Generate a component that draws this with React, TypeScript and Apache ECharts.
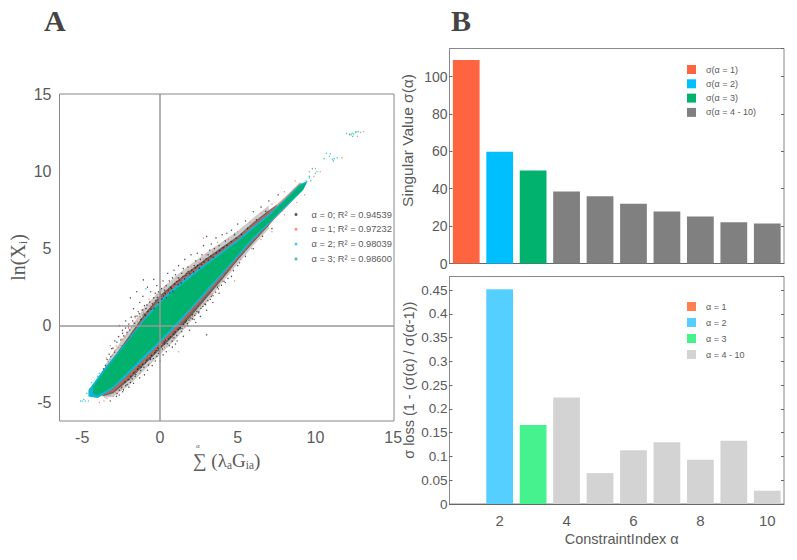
import React, { useEffect, useRef } from "react";
import * as echarts from "echarts";

const constraintIndex = ["1", "2", "3", "4", "5", "6", "7", "8", "9", "10"];
const sigmaRed = [108.8, null, null, null, null, null, null, null, null, null];
const sigmaBlue = [null, 59.8, null, null, null, null, null, null, null, null];
const sigmaGreen = [null, null, 49.8, null, null, null, null, null, null, null];
const sigmaGrey = [null, null, null, 38.5, 36, 32, 27.8, 25.2, 22, 21.4];
const lossOrange = [null, null, null, null, null, null, null, null, null, null];
const lossBlue = [null, 0.452, null, null, null, null, null, null, null, null];
const lossGreen = [null, null, 0.166, null, null, null, null, null, null, null];
const lossGrey = [null, null, null, 0.224, 0.065, 0.113, 0.13, 0.093, 0.133, 0.028];

const bandHaze = [[-3.5,-2.5],[-2.5,-1],[-2,-0.3],[-1,1.2],[0,2.3],[1,3.2],[2,4],[3,4.75],[4,5.45],[5,6.15],[6,7],[7,7.8],[7,6.3],[6,5.2],[5,4],[4,2.8],[3,1.5],[2,0.3],[1,-0.9],[0,-1.9],[-1,-2.9],[-2,-3.9],[-3,-4.6],[-3.6,-4.7]];
const bandBlack = [[-3.7,-3.1],[-3,-2.1],[-2,-0.7],[-1,0.75],[0,1.95],[1,2.85],[2,3.65],[3,4.4],[4,5.1],[5,5.8],[6,6.7],[7,7.5],[7.5,7.85],[7.5,7.1],[7,6.5],[6,5.4],[5,4.25],[4,3],[3,1.8],[2,0.6],[1,-0.55],[0,-1.55],[-1,-2.55],[-2,-3.55],[-3,-4.4],[-3.7,-4.6]];
const bandRed = [[-4,-3.5],[-3.3,-2.6],[-2,-0.85],[-1,0.6],[0,1.8],[1,2.7],[2,3.5],[3,4.25],[4,4.95],[5,5.72],[6,6.6],[7,7.4],[8,8.3],[9,9.3],[9.3,9],[8,7.55],[7,6.55],[6,5.5],[5,4.35],[4,3.15],[3,2],[2,0.85],[1,-0.3],[0,-1.35],[-1,-2.35],[-2,-3.35],[-3,-4.3],[-3.9,-4.6]];
const bandCyan = [[-4.6,-4.2],[-3.6,-2.8],[-2,-0.85],[-1,0.5],[0,1.65],[1,2.55],[2,3.35],[3,4.1],[4,4.85],[5,5.6],[6,6.45],[7,7.25],[8,8.2],[9,9.2],[9.5,9.4],[9.2,8.8],[8,7.6],[7,6.6],[6,5.6],[5,4.45],[4,3.3],[3,2.15],[2,1.05],[1,-0.1],[0,-1.15],[-1,-2.15],[-2,-3.15],[-3,-4.1],[-4,-4.7],[-4.6,-4.6]];
const bandGreen = [[-4.3,-4],[-3.5,-2.85],[-2,-0.95],[-1,0.35],[0,1.45],[1,2.35],[2,3.15],[3,3.95],[4,4.7],[5,5.45],[6,6.3],[7,7.1],[8,8.1],[9,9.1],[9.4,9.25],[9.2,8.85],[8,7.7],[7,6.7],[6,5.75],[5,4.6],[4,3.45],[3,2.35],[2,1.2],[1,0.1],[0,-0.95],[-1,-1.95],[-2,-2.95],[-3,-3.95],[-4,-4.55],[-4.3,-4.4]];

const pointsBlack = [
[-1.07,2.97],[-0.4,3],[-1.5,2.2],[-1.9,1.8],[-1.3,1.5],[-0.8,2.5],[-0.2,2.6],[0.2,2.9],[0.5,3.4],[0.9,3.6],[1.2,3.9],[1.6,4.3],[2,4.6],[2.4,4.7],[2.8,5.2],[3,5.8],[3.3,5.3],[3.6,5.7],[4,5.9],[4.3,6],[4.6,6.2],[5,6.6],[5.5,6.8],[6,7.4],[6.5,7.7],[7,8.1],[7.6,8.5],
[-2.6,0],[-2.2,0.3],[-1.7,1.1],[-1.1,1.9],[-0.6,2.2],[-0.1,2.2],[0.4,2.6],[0.8,3.1],[1.4,3.4],[1.8,3.8],[2.3,4.2],[2.7,4.6],[3.2,4.9],[3.8,5.2],[-3.1,-1.5],[-2.9,-1],[-2.4,-0.5],[-3.4,-2.2],
[-1.4,0.9],[-1,1.3],[-0.4,1.8],[0.1,2.4],[0.6,2.9],[1,3.3],[1.5,3.7],[-2,0.1],[-1.6,0.6],[-0.9,1.1],[-0.3,2.1],[0.3,2.3],[0.7,2.5],[1.2,3.1],[1.7,3.4],[2.2,3.9],[2.6,4.3],[3.1,4.6],[3.5,5],[4.2,5.5],[4.8,5.9],
[3,-0.6],[-0.2,-2],[-1.7,-3.75],[-0.5,-2.6],[0,-2.3],[0.4,-1.7],[0.8,-1.4],[1.1,-1],[1.5,-0.7],[1.9,-0.3],[2.3,0.2],[2.6,0.6],[3,1],[3.4,1.5],[3.8,2.1],[4.2,2.8],[4.6,3.2],[5,3.9],[5.5,4.5],[6,5],[6.6,5.8],[7.2,6.3],
[-1,-3.2],[-1.3,-3.4],[-2,-4],[-2.4,-4.3],[-2.8,-4.6],[-3.2,-4.9],[-0.8,-2.9],[-0.3,-2.3],[0.2,-1.9],[0.6,-1.3],[1,-1.2],[1.4,-0.4],[1.8,0],[2.2,0.4],[2.5,0.9],[2.9,1.4],[3.3,1.9],[3.7,2.5],[-1.6,-3.3],[-1.9,-3.7],[-2.2,-3.9],[-2.6,-4.2],[-0.6,-2.2],[-0.1,-1.8],[0.3,-1.2],[0.9,-0.8],[1.3,-0.2],[1.7,0.3],[2.1,0.7],[-1.2,-2.7],[-1.5,-3],
[-1.85,0.55],[-1.75,0.3],[-1.62,0.15],[-1.48,0.62],[-1.33,0.78],[-1.22,0.41],[-1.11,1.02],[-1.02,0.74],[-0.93,0.66],[-0.84,1.34],[-0.77,0.92],[-0.66,1.53],[-0.58,1.07],[-0.49,1.42],[-0.38,1.12],[-0.27,1.63],[-0.17,1.84],[-0.08,1.49],[0.03,2.04],[0.12,1.72],[0.22,1.93],[0.34,2.08],[0.41,1.81],[0.52,2.27],[0.63,2.13],[0.74,2.42],[0.83,2.22],[0.95,2.71],[1.06,2.84],[1.17,2.66],[1.28,2.97],[1.36,2.77],[1.47,3.16],[1.58,3.03],[1.69,3.27],[1.81,3.52],[1.93,3.36],[2.04,3.61],[2.16,3.49],[2.29,3.76],[2.41,3.91],[2.53,3.73],[2.68,3.97],[2.84,4.13],[2.97,4.34],[3.12,4.26],[3.28,4.51],[3.42,4.44],[3.63,4.72],[3.84,4.87],[4.06,5.06],[4.31,5.22],[4.57,5.46],[4.9,5.68],[5.24,5.93],[5.63,6.32],[6.2,6.88],[6.8,7.42],
[-2.77,-1.08],[-2.66,-0.72],[-2.52,-0.94],[-2.41,-0.31],[-2.33,-0.67],[-2.21,-0.16],[-2.12,-0.44],[-2.03,-0.08],[-1.94,-0.29],[-3.27,-1.86],[-3.16,-2.01],[-3.02,-1.47],[-2.92,-1.73],[-3.5,-2.6],[-3.63,-2.81],
[-2.76,-4.42],[-2.62,-4.51],[-2.47,-4.03],[-2.35,-4.18],[-2.24,-3.66],[-2.11,-3.83],[-2,-3.52],[-1.88,-3.31],[-1.79,-3.46],[-1.68,-3.07],[-1.56,-3.18],[-1.44,-2.83],[-1.35,-2.64],[-1.24,-2.92],[-1.13,-2.53],[-1.03,-2.71],[-0.94,-2.41],[-0.85,-2.26],[-0.74,-2.57],[-0.64,-2.11],[-0.54,-1.93],[-0.43,-2.14],[-0.33,-1.76],[-0.24,-1.62],[-0.13,-1.47],[-0.04,-1.66],[0.07,-1.33],[0.16,-1.52],[0.27,-1.07],[0.38,-0.94],[0.47,-1.18],[0.57,-0.87],[0.68,-0.73],[0.78,-1.01],[0.88,-0.56],[0.98,-0.41],[1.08,-0.64],[1.19,-0.26],[1.31,-0.11],[1.42,-0.19],[1.53,0.08],[1.64,0.21],[1.76,0.13],[1.87,0.36],[1.98,0.49],[2.09,0.44],[2.24,0.67],[2.37,0.92],[2.49,0.83],[2.63,1.11],[2.76,1.24],[2.93,1.36],[3.08,1.62],[3.24,1.71],[3.41,1.94],[3.58,2.17],[3.76,2.38],[3.96,2.62],[4.12,2.88],[4.37,3.07],[4.72,3.57],[5.12,4.08]
];
const pointsRed = [
[-3.2,-1.3],[-2.9,-1.6],[-2.4,-0.9],[-2,-0.2],[-1.6,0.5],[-1.2,1],[-0.7,1.7],[-0.2,2],[0.3,2.5],[0.6,2.2],[1.1,3.1],[1.5,3.1],[2,3.8],[2.5,4.1],[3,4.6],[3.4,4.8],[2.8,5.7],[3.7,5.4],[4.4,5.6],[5,6.1],[5.8,6.7],[6.5,7.3],[7.2,7.9],[8,8.7],[8.7,9.4],[9.6,10],[10,10.2],[9.9,9.7],[10.3,10],
[-3.9,-5],[-3.6,-4.9],[-3,-4.6],[-2.5,-4.1],[-1.9,-3.6],[-1.3,-3.1],[-0.7,-2.5],[-0.2,-1.7],[0.3,-1.4],[0.8,-0.8],[1.2,-1.7],[1.6,-0.1],[2.1,0.6],[2.6,1.3],[3.2,2],[3.8,2.6],[4.5,3.6],[4.8,2.9],[5.2,4.3],[5.9,5],[6.5,5.6],[7.2,6.1],[8,7.2],[8.8,8],[9.3,8.5],
[12.2,12.4],[13.1,12.6],[12.7,12.3],[11.7,10.9],
[-3.45,-2.1],[-3.3,-2.36],[-3.07,-1.92],[-2.81,-1.33],[-2.66,-1.44],[-2.5,-0.87],[-2.27,-0.73],[-2.13,-0.56],[-1.83,-0.12],[-1.7,0.18],[-1.45,0.26],[-1.28,0.58],[-1.06,0.87],[-0.87,0.79],[-0.62,1.28],[-0.44,1.47],[-0.12,1.77],[0.14,1.96],[0.46,2.31],[0.78,2.58],[1.03,2.79],[1.32,3.02],[1.72,3.31],[2.14,3.72],[2.77,4.31],
[-3.41,-4.72],[-3.18,-4.56],[-2.87,-4.31],[-2.69,-4.22],[-2.41,-3.97],[-2.17,-3.61],[-1.97,-3.39],[-1.72,-3.21],[-1.49,-2.96],[-1.17,-2.61],[-0.97,-2.33],[-0.71,-2.02],[-0.47,-1.83],[-0.18,-1.55],[0.11,-1.24],[0.43,-0.91],[0.71,-0.62],[1.04,-0.33],[1.37,-0.02],[1.82,0.41],[2.27,0.79],[2.83,1.44],[3.36,2.03],[4.01,2.87]
];
const pointsCyan = [
[-5,-4.9],[-4.8,-4.9],[-4.6,-4.9],[-4.5,-4.4],[-4.4,-3.7],[-3.9,-3.1],[-3.2,-2.2],[-2.5,-1.3],[-1.9,-0.6],[-1.1,0.7],[-0.9,2.4],[-0.2,1.8],[0.6,2.5],[1.5,3],[2.6,3.8],[4.8,6],[5.5,6.2],[6.6,7],[7.5,7.7],[8.6,8.8],[9.6,9.6],[10.1,10],
[12.3,12.4],[12.6,12.6],[12.9,12.55],[10.9,11],[11.1,10.8],[11.4,10.9],
[-3.3,-4.5],[-2.2,-3.4],[-1,-2.4],[0.2,-0.9],[1.4,0.4],[2.6,1.6],[4,3.2],[5.5,4.9]
];
const pointsGreen = [
[-4.9,-4.8],[-5.1,-4.9],[-4.7,-4.4],[-4.5,-4.1],[-4.3,-3.9],[-4,-3.3],[-3.6,-3],[9.4,9.4],[9.6,9.7],[9.8,10.2],[10,9.9],[9.7,9.4],
[12,12.5],[12.2,12.45],[12.35,12.5],[12.45,12.45],[12.6,12.55],[12.75,12.6],[12.4,12.3],[10.7,11.2],[10.95,11.15],[11.2,10.85],[11.15,10.7],[10.55,10.85]
];

const seriesNames = ["α = 0; R² = 0.94539", "α = 1; R² = 0.97232", "α = 2; R² = 0.98039", "α = 3; R² = 0.98600"];
const scatterColors = ["#1a1a1a", "#FF6A50", "#00BFFF", "#00B878"];
const bandColors = ["#3a3531", "#E2654C", "#10B4D8", "#00B26E", "#55504c"];
const bandOpacity = [0.7, 0.7, 1, 1, 0.3];
const sigmaNames = ["σ(α = 1)", "σ(α = 2)", "σ(α = 3)", "σ(α = 4 - 10)"];
const lossNames = ["α = 1", "α = 2", "α = 3", "α = 4 - 10"];
const sigmaColors = ["#FF6440", "#00BFFF", "#00B26E", "#808080"];
const lossColors = ["#FF7F50", "#55CFFF", "#45F28D", "#D3D3D3"];

const TXT = "#5a5a5a";
const SANS = '"Liberation Sans", Arial, sans-serif';
const SERIF = '"Liberation Serif", "DejaVu Serif", serif';

function bandSeries(i: number, band: number[][]) {
  return {
    type: "custom", name: "band" + i, xAxisIndex: 0, yAxisIndex: 0, silent: true,
    data: band, encode: { x: 0, y: 1 },
    renderItem: (p: any, api: any) => {
      if (p.dataIndex !== 0) return null;
      return {
        type: "polygon",
        shape: { points: band.map((v) => api.coord(v)) },
        style: { fill: bandColors[i], opacity: bandOpacity[i] },
      };
    },
  };
}
function scatterSeries(i: number, pts: number[][]) {
  return {
    type: "scatter", name: seriesNames[i], xAxisIndex: 0, yAxisIndex: 0, data: pts,
    symbol: "circle", symbolSize: 1.4, itemStyle: { color: scatterColors[i], opacity: 0.75 }, silent: true,
  };
}
function barSeries(name: string, color: string, data: any[], ax: number) {
  return {
    type: "bar", name, data, xAxisIndex: ax, yAxisIndex: ax, stack: "s" + ax, barWidth: "80%",
    itemStyle: { color }, silent: true,
  };
}
const evenOnly = (_: number, v: string) => Number(v) % 2 === 0;
function sideAxis(grid: number, max: number, interval: number) {
  return {
    type: "value", gridIndex: grid, position: "right", min: 0, max, interval,
    axisLine: { show: false }, splitLine: { show: false }, axisLabel: { show: false },
    axisTick: { show: true, inside: true, length: 3, lineStyle: { color: "#666" } },
  };
}
const rangeLabel = { showMaxLabel: false, color: TXT, fontFamily: SANS, margin: 2 };
const aTicks = [-5, 0, 5, 10, 15];

export default function App() {
  const ref = useRef<HTMLDivElement>(null);
  useEffect(() => {
    const chart = echarts.init(ref.current!, null, { renderer: "svg" });
    const commonA = {
      axisLine: { show: false }, splitLine: { show: false },
      axisLabel: { color: TXT, fontSize: 16, fontFamily: SANS, customValues: aTicks, showMinLabel: true, showMaxLabel: true },
      axisTick: { show: false, customValues: aTicks },
    };
    chart.setOption({
      animation: false,
      backgroundColor: "#fff",
      title: [
        { text: "A", left: 39, top: 0, textStyle: { fontFamily: SERIF, fontSize: 30, fontWeight: "bold", color: "#444" } },
        { text: "B", left: 446, top: 0, textStyle: { fontFamily: SERIF, fontSize: 30, fontWeight: "bold", color: "#444" } },
      ],
      grid: [
        { left: 59.5, top: 94, width: 334.5, height: 327, show: true, borderColor: "#888", borderWidth: 1, backgroundColor: "#fff" },
        { left: 449.5, top: 48.5, width: 334.5, height: 215, show: true, borderColor: "#888", borderWidth: 1, backgroundColor: "#fff" },
        { left: 449.5, top: 276.5, width: 334.5, height: 227.5, show: true, borderColor: "#888", borderWidth: 1, backgroundColor: "#fff" },
      ],
      xAxis: [
        { type: "value", gridIndex: 0, min: -6.46, max: 15.05, ...commonA,
          name: "∑ (λₐGᵢₐ)", nameLocation: "middle", nameGap: 30, nameMoveOverlap: false,
          nameTextStyle: { fontFamily: SERIF, fontSize: 19, color: TXT } },
        { type: "category", gridIndex: 1, data: constraintIndex, axisTick: { show: false }, axisLabel: { show: false }, axisLine: { lineStyle: { color: "#666" } } },
        { type: "category", gridIndex: 2, data: constraintIndex,
          axisLine: { lineStyle: { color: "#666" } },
          axisTick: { alignWithLabel: true, inside: true, length: 3, interval: evenOnly, lineStyle: { color: "#666" } },
          axisLabel: { interval: evenOnly, color: TXT, fontSize: 15, fontFamily: SANS, margin: 9 },
          name: "ConstraintIndex α", nameLocation: "middle", nameGap: 27, nameMoveOverlap: false,
          nameTextStyle: { color: TXT, fontSize: 14.5, fontFamily: SANS, padding: [0, 0, 0, 10] } },
        { type: "category", gridIndex: 2, position: "top", data: constraintIndex, axisLine: { show: false }, axisLabel: { show: false },
          axisTick: { alignWithLabel: true, inside: true, length: 3, interval: evenOnly, lineStyle: { color: "#666" } } },
      ],
      yAxis: [
        { type: "value", gridIndex: 0, min: -6.2, max: 15.05, ...commonA,
          name: "ln(Xᵢ)", nameLocation: "middle", nameGap: 32, nameRotate: 90, nameMoveOverlap: false,
          nameTextStyle: { fontFamily: SERIF, fontSize: 20, color: TXT } },
        { type: "value", gridIndex: 1, min: 0, max: 115, interval: 20, splitLine: { show: false },
          axisLine: { show: true, lineStyle: { color: "#888" } },
          axisTick: { show: true, inside: true, length: 3, lineStyle: { color: "#666" } },
          axisLabel: { ...rangeLabel, fontSize: 14 },
          name: "Singular Value σ(α)", nameLocation: "middle", nameGap: 34, nameMoveOverlap: false,
          nameTextStyle: { color: TXT, fontSize: 15.5, fontFamily: SANS, padding: [0, 0, 0, 31] } },
        { type: "value", gridIndex: 2, min: 0, max: 0.4786, interval: 0.05, splitLine: { show: false },
          axisLine: { show: true, lineStyle: { color: "#888" } },
          axisTick: { show: true, inside: true, length: 3, lineStyle: { color: "#666" } },
          axisLabel: { ...rangeLabel, fontSize: 13.5 },
          name: "σ loss (1 - (σ(α) / σ(α-1))", nameLocation: "middle", nameGap: 33, nameMoveOverlap: false,
          nameTextStyle: { color: TXT, fontSize: 14.5, fontFamily: SANS, padding: [0, 0, 0, 20] } },
        sideAxis(1, 115, 20),
        sideAxis(2, 0.4786, 0.05),
      ],
      legend: [
        { data: seriesNames, left: 289.5, top: 204, orient: "vertical", itemWidth: 3, itemHeight: 3, itemGap: 3.8, icon: "circle",
          textStyle: { color: TXT, fontSize: 9.3, fontFamily: SANS, padding: [0, 0, 0, 9], lineHeight: 11 } },
        { data: sigmaNames, left: 682, top: 60, orient: "vertical", itemWidth: 9, itemHeight: 9, itemGap: 5.3, icon: "rect",
          textStyle: { color: TXT, fontSize: 9, fontFamily: SANS, padding: [0, 0, 0, 5] } },
        { data: lossNames, left: 682, top: 297, orient: "vertical", itemWidth: 9, itemHeight: 9, itemGap: 7, icon: "rect",
          textStyle: { color: TXT, fontSize: 9, fontFamily: SANS, padding: [0, 0, 0, 5] } },
      ],
      graphic: [
        { type: "text", left: 196, top: 442, style: { text: "α", fontSize: 7, fontFamily: SERIF, fill: TXT } },
      ],
      series: [
        { type: "scatter", name: "axesCross", xAxisIndex: 0, yAxisIndex: 0, data: [], silent: true,
          markLine: { silent: true, symbol: "none", label: { show: false }, lineStyle: { color: "#999", width: 1.5, type: "solid" },
            data: [{ xAxis: 0 }, { yAxis: 0 }] } },
        bandSeries(4, bandHaze),
        bandSeries(0, bandBlack),
        scatterSeries(0, pointsBlack),
        bandSeries(1, bandRed),
        scatterSeries(1, pointsRed),
        bandSeries(2, bandCyan),
        scatterSeries(2, pointsCyan),
        bandSeries(3, bandGreen),
        scatterSeries(3, pointsGreen),
        barSeries(sigmaNames[0], sigmaColors[0], sigmaRed, 1),
        barSeries(sigmaNames[1], sigmaColors[1], sigmaBlue, 1),
        barSeries(sigmaNames[2], sigmaColors[2], sigmaGreen, 1),
        barSeries(sigmaNames[3], sigmaColors[3], sigmaGrey, 1),
        barSeries(lossNames[0], lossColors[0], lossOrange, 2),
        barSeries(lossNames[1], lossColors[1], lossBlue, 2),
        barSeries(lossNames[2], lossColors[2], lossGreen, 2),
        barSeries(lossNames[3], lossColors[3], lossGrey, 2),
      ],
    });
    return () => chart.dispose();
  }, []);
  return <div ref={ref} style={{ position: "fixed", left: 0, top: 0, width: 797, height: 560 }} />;
}
